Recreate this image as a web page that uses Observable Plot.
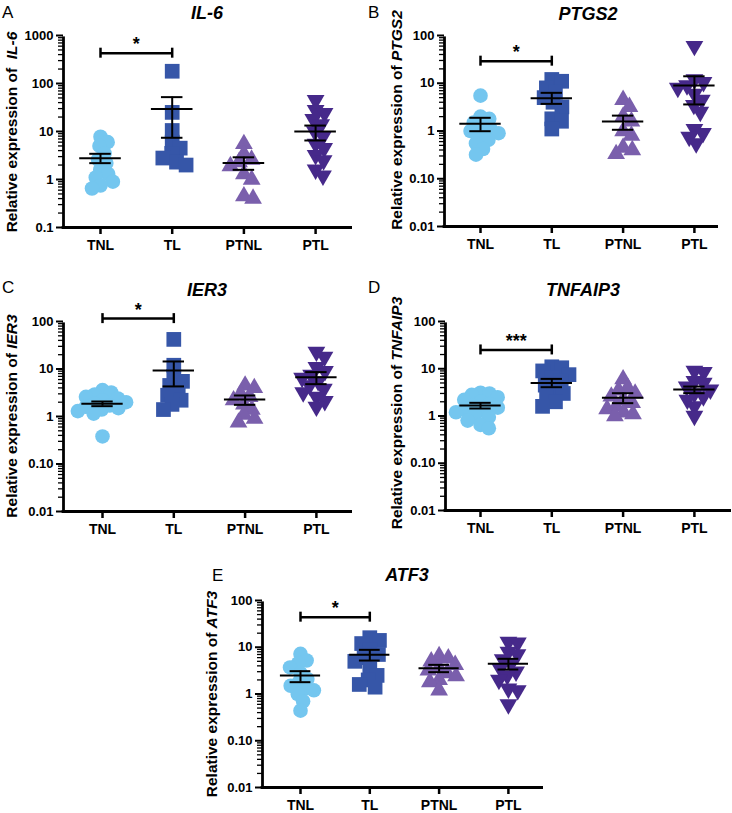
<!DOCTYPE html>
<html><head><meta charset="utf-8">
<script src="https://cdn.jsdelivr.net/npm/d3@7"></script>
<script src="https://cdn.jsdelivr.net/npm/@observablehq/plot@0.6"></script>
<style>
body{margin:0;background:#fff;}
#fig{position:relative;width:732px;height:813px;font-family:"Liberation Sans",Arial,sans-serif;color:#000;overflow:hidden}
.abs{position:absolute;white-space:nowrap;line-height:1}
.title{font-weight:bold;font-style:italic;font-size:18px;transform:translate(-50%,-50%)}
.letter{font-size:17px;transform:translate(0,-50%)}
.ylab{font-weight:bold;font-size:15.5px;transform:translate(-50%,-50%) rotate(-90deg)}
svg{overflow:visible}
svg [aria-label^="x-axis"] line, svg [aria-label^="x-axis"] path{stroke-width:2.5px}
svg [aria-label^="y-axis"] line, svg [aria-label^="y-axis"] path{stroke-width:2px}
svg [aria-label^="x-axis"] text{font-size:14px}
</style>
</head><body>
<div id="fig"></div>
<script>
const groups = ["TNL", "TL", "PTNL", "PTL"];
const colors = ["#74c6ef", "#3656a8", "#7a5fac", "#46298a"];

// IL-6
const IL6_TNL = [7.8, 6.0, 5.0, 3.5, 2.6, 2.2, 1.6, 1.3, 1.1, 0.9, 0.75, 0.65];
const IL6_TL = [180, 25, 10.5, 6, 4.5, 3.5, 2.8, 2.3, 2.0];
const IL6_PTNL = [5.5, 3.4, 2.6, 2.3, 1.9, 1.3, 1.0, 0.45, 0.4];
const IL6_PTL = [45, 28, 24, 18, 14, 10, 8, 5.5, 4.5, 3.2, 2.5, 1.6, 1.2];
const IL6_mean = [2.78, 29.6, 2.22, 10.0];
const IL6_semLo = [2.19, 7.4, 1.59, 6.5];
const IL6_semHi = [3.43, 52, 2.9, 13.3];

// PTGS2
const PTGS2_TNL = [5.5, 2.0, 1.8, 1.5, 1.3, 1.1, 1.0, 0.9, 0.8, 0.65, 0.55, 0.42, 0.32];
const PTGS2_TL = [12, 11, 8, 6.5, 5, 4, 3.2, 1.8, 1.6, 1.1];
const PTGS2_PTNL = [4.5, 3.2, 2.0, 1.6, 1.0, 0.8, 0.45, 0.4, 0.33];
const PTGS2_PTL = [60, 12, 10.5, 9, 8, 6, 4.5, 3.5, 2.5, 1.1, 0.9, 0.75, 0.55];
const PTGS2_mean = [1.41, 4.87, 1.58, 8.97];
const PTGS2_semLo = [0.99, 3.7, 1.06, 3.6];
const PTGS2_semHi = [1.89, 6.3, 2.1, 14];

// IER3
const IER3_TNL = [3.6, 3.2, 2.9, 2.6, 2.4, 2.2, 2.0, 1.85, 1.7, 1.6, 1.5, 1.4, 1.3, 1.15, 0.38];
const IER3_TL = [42, 12, 7, 5.5, 4.5, 3.5, 2.8, 2.2, 1.8, 1.4];
const IER3_PTNL = [4.5, 4.0, 3.0, 2.6, 2.2, 1.8, 1.4, 1.1, 0.9, 0.75];
const IER3_PTL = [23, 18, 11, 9, 7.5, 6.5, 5.5, 4.5, 3.8, 3.2, 2.6, 2.1, 1.6];
const IER3_mean = [1.85, 9.3, 2.28, 6.7];
const IER3_semLo = [1.65, 4.3, 1.76, 4.8];
const IER3_semHi = [2.07, 14.4, 2.77, 8.6];

// TNFAIP3
const TNFAIP3_TNL = [3.1, 3.0, 2.8, 2.5, 2.2, 2.0, 1.8, 1.65, 1.5, 1.4, 1.3, 1.2, 1.05, 0.95, 0.8, 0.65, 0.55];
const TNFAIP3_TL = [11, 10.5, 9, 7.5, 6.5, 5.5, 4.5, 3.5, 3.0, 2.5, 2.0, 1.6];
const TNFAIP3_PTNL = [6.0, 4.0, 3.5, 3.0, 2.6, 2.2, 1.9, 1.6, 1.4, 1.2, 1.1, 1.0];
const TNFAIP3_PTL = [9, 8.5, 5.5, 5, 4.2, 3.6, 3.0, 2.6, 2.2, 1.6, 1.0];
const TNFAIP3_mean = [1.67, 5.0, 2.43, 3.64];
const TNFAIP3_semLo = [1.44, 4.07, 1.87, 3.04];
const TNFAIP3_semHi = [1.9, 6.1, 3.04, 4.2];

// ATF3
const ATF3_TNL = [7.2, 5.2, 4.5, 3.7, 2.8, 2.1, 1.8, 1.5, 1.3, 1.2, 1.0, 0.7, 0.44];
const ATF3_TL = [16, 14, 12, 9, 7, 6, 5, 3.5, 2.5, 2.0, 1.6, 1.4];
const ATF3_PTNL = [6.5, 5.8, 5.0, 4.2, 3.6, 3.2, 2.8, 2.4, 2.0, 1.8, 1.2];
const ATF3_PTL = [13, 12.5, 8, 7, 5.5, 4.5, 3.5, 3.0, 2.5, 2.0, 1.3, 1.2, 0.6];
const ATF3_mean = [2.49, 6.9, 3.57, 4.43];
const ATF3_semLo = [1.79, 5.2, 2.93, 3.34];
const ATF3_semHi = [3.08, 8.8, 4.2, 5.66];

// axis ticks
const ticksA = [0.1, 1, 10, 100, 1000];
const tickLabelsA = ["0.1", "1", "10", "100", "1000"];
const ticksB = [0.01, 0.1, 1, 10, 100];
const tickLabelsB = ["0.01", "0.10", "1", "10", "100"];

// significance brackets
const bracketValues = [428, 29, 115, 25, 44];
const bracketStars = ["*", "*", "*", "***", "*"];

const panels = [
  {letter: "A", gene: "IL-6", ylabPre: "Relative expression of\u00a0\u00a0", values: [IL6_TNL, IL6_TL, IL6_PTNL, IL6_PTL], mean: IL6_mean, lo: IL6_semLo, hi: IL6_semHi, ticks: ticksA, labels: tickLabelsA,
   svgLeft: 0, axisLeft: 63, axisRight: 352, first: 100, step: 71.7, top: 35, bottom: 227,
   letterPos: [2, 12], titlePos: [207, 13], ylabPos: [12, 132]},
  {letter: "B", gene: "PTGS2", ylabPre: "Relative expression of ", values: [PTGS2_TNL, PTGS2_TL, PTGS2_PTNL, PTGS2_PTL], mean: PTGS2_mean, lo: PTGS2_semLo, hi: PTGS2_semHi, ticks: ticksB, labels: tickLabelsB,
   svgLeft: 366, axisLeft: 444, axisRight: 718, first: 480, step: 71.3, top: 35, bottom: 226,
   letterPos: [368, 12], titlePos: [588, 14], ylabPos: [397, 120]},
  {letter: "C", gene: "IER3", ylabPre: "Relative expression of ", values: [IER3_TNL, IER3_TL, IER3_PTNL, IER3_PTL], mean: IER3_mean, lo: IER3_semLo, hi: IER3_semHi, ticks: ticksB, labels: tickLabelsB,
   svgLeft: 0, axisLeft: 63, axisRight: 352, first: 102, step: 71.3, top: 321, bottom: 511,
   letterPos: [2, 287], titlePos: [207, 290], ylabPos: [12, 416]},
  {letter: "D", gene: "TNFAIP3", ylabPre: "Relative expression of ", values: [TNFAIP3_TNL, TNFAIP3_TL, TNFAIP3_PTNL, TNFAIP3_PTL], mean: TNFAIP3_mean, lo: TNFAIP3_semLo, hi: TNFAIP3_semHi, ticks: ticksB, labels: tickLabelsB,
   svgLeft: 366, axisLeft: 445, axisRight: 731, first: 480, step: 71.3, top: 321, bottom: 510,
   letterPos: [368, 287], titlePos: [583, 290], ylabPos: [397, 413]},
  {letter: "E", gene: "ATF3", ylabPre: "Relative expression of ", values: [ATF3_TNL, ATF3_TL, ATF3_PTNL, ATF3_PTL], mean: ATF3_mean, lo: ATF3_semLo, hi: ATF3_semHi, ticks: ticksB, labels: tickLabelsB,
   svgLeft: 180, axisLeft: 262, axisRight: 543, first: 300, step: 69.3, top: 600, bottom: 787,
   letterPos: [212, 575], titlePos: [407, 575], ylabPos: [212, 694]}
];

// inverted triangle symbol
const triangleDown = {
  draw(context, size) {
    const y = -Math.sqrt(size / (Math.sqrt(3) * 3));
    context.moveTo(0, -y * 2);
    context.lineTo(-Math.sqrt(3) * y, y);
    context.lineTo(Math.sqrt(3) * y, y);
    context.closePath();
  }
};
const symbols = ["circle", "square", "triangle", triangleDown];
const radii = [7.3, 8.3, 6.6, 6.6];
const spacing = [9, 10, 9.5, 9.5];

function swarm(vals, y, d) {
  const pts = vals.map(v => ({v, py: y(v), x: 0})).sort((a, b) => a.py - b.py);
  const placed = [];
  for (const p of pts) {
    const cands = [0];
    for (const q of placed) {
      const dy = p.py - q.py;
      if (Math.abs(dy) < d) {
        const dx = Math.sqrt(d * d - dy * dy);
        cands.push(q.x + dx, q.x - dx);
      }
    }
    cands.sort((a, b) => Math.abs(a) - Math.abs(b));
    for (const c of cands) {
      if (placed.every(q => (c - q.x) ** 2 + (p.py - q.py) ** 2 >= d * d - 1e-6)) { p.x = c; break; }
    }
    placed.push(p);
  }
  return pts;
}

const fig = document.getElementById("fig");
function addDiv(cls, html, x, y) {
  const el = document.createElement("div");
  el.className = "abs " + cls;
  el.innerHTML = html;
  el.style.left = x + "px";
  el.style.top = y + "px";
  fig.appendChild(el);
}

panels.forEach((p, pi) => {
  const mt = 20, mb = 40, width = 366;
  const plotH = p.bottom - p.top;
  const height = plotH + mt + mb;
  const ml = p.axisLeft - p.svgLeft;
  const firstLocal = p.first - p.svgLeft;
  const xAxisPos = (p.axisLeft - p.first) / p.step;
  const xEnd = (p.axisRight - p.first) / p.step;
  const domain = [p.ticks[0], p.ticks[p.ticks.length - 1]];
  const yScale = d3.scaleLog().domain(domain).range([mt + plotH, mt]);

  const minor = [];
  for (let dec = domain[0]; dec < domain[1] * 0.99; dec *= 10)
    for (let k = 2; k <= 9; k++) minor.push(+(dec * k).toPrecision(6));

  const dotMarks = p.values.map((vals, g) => {
    const pts = swarm(vals, yScale, spacing[g]).map(d => ({g, v: d.v, x: g + d.x / p.step}));
    return Plot.dot(pts, {x: "x", y: "v", fill: colors[g], stroke: "none", symbol: symbols[g], r: radii[g]});
  });

  const stats = groups.map((name, g) => ({g, mean: p.mean[g], lo: p.lo[g], hi: p.hi[g]}));
  const bv = bracketValues[pi];

  const chart = Plot.plot({
    width, height,
    marginLeft: ml, marginRight: width - (p.axisRight - p.svgLeft), marginTop: mt, marginBottom: mb,
    style: {fontFamily: '"Liberation Sans", Arial, sans-serif', fontWeight: "bold", fontSize: "13px", background: "transparent", color: "#000", overflow: "visible"},
    x: {type: "linear", domain: [0, 3], range: [firstLocal, firstLocal + 3 * p.step], ticks: [0, 1, 2, 3], tickFormat: i => groups[Math.round(i)], tickSize: 7, tickPadding: 6, label: null},
    y: {type: "log", domain, ticks: p.ticks, tickFormat: d => p.labels[p.ticks.findIndex(t => Math.abs(Math.log10(t / d)) < 1e-6)], tickSize: 7, tickPadding: 3, label: null},
    marks: [
      Plot.ruleY(minor, {x1: xAxisPos, x2: xAxisPos, insetLeft: -5, stroke: "#000", strokeWidth: 1.3}),
      ...dotMarks,
      Plot.ruleY(stats, {y: "mean", x1: d => d.g - 0.29, x2: d => d.g + 0.29, stroke: "#000", strokeWidth: 2}),
      Plot.ruleY(stats, {y: "lo", x1: d => d.g - 0.15, x2: d => d.g + 0.15, stroke: "#000", strokeWidth: 2}),
      Plot.ruleY(stats, {y: "hi", x1: d => d.g - 0.15, x2: d => d.g + 0.15, stroke: "#000", strokeWidth: 2}),
      Plot.ruleX(stats, {x: "g", y1: "lo", y2: "hi", stroke: "#000", strokeWidth: 2}),
      Plot.ruleY([bv], {x1: 0, x2: 1, stroke: "#000", strokeWidth: 2.5}),
      Plot.ruleX([0, 1], {x: d => d, y1: bv, y2: bv, insetTop: -5, insetBottom: -5, stroke: "#000", strokeWidth: 2.5}),
      Plot.text([bracketStars[pi]], {x: 0.5, y: bv, text: d => d, dy: -3, lineAnchor: "bottom", fontSize: 18, fontWeight: "bold"}),
      Plot.ruleX([xAxisPos], {y1: domain[0], y2: domain[1], stroke: "#000", strokeWidth: 2.8, insetBottom: -1.4}),
      Plot.ruleY([domain[0]], {x1: xAxisPos, x2: xEnd, stroke: "#000", strokeWidth: 2.8, insetLeft: -1.4})
    ]
  });
  chart.style.position = "absolute";
  chart.style.left = p.svgLeft + "px";
  chart.style.top = (p.top - mt) + "px";
  fig.appendChild(chart);

  addDiv("letter", p.letter, p.letterPos[0], p.letterPos[1]);
  addDiv("title", p.gene, p.titlePos[0], p.titlePos[1]);
  addDiv("ylab", p.ylabPre + "<i>" + p.gene + "</i>", p.ylabPos[0], p.ylabPos[1]);
});
</script>
</body></html>
